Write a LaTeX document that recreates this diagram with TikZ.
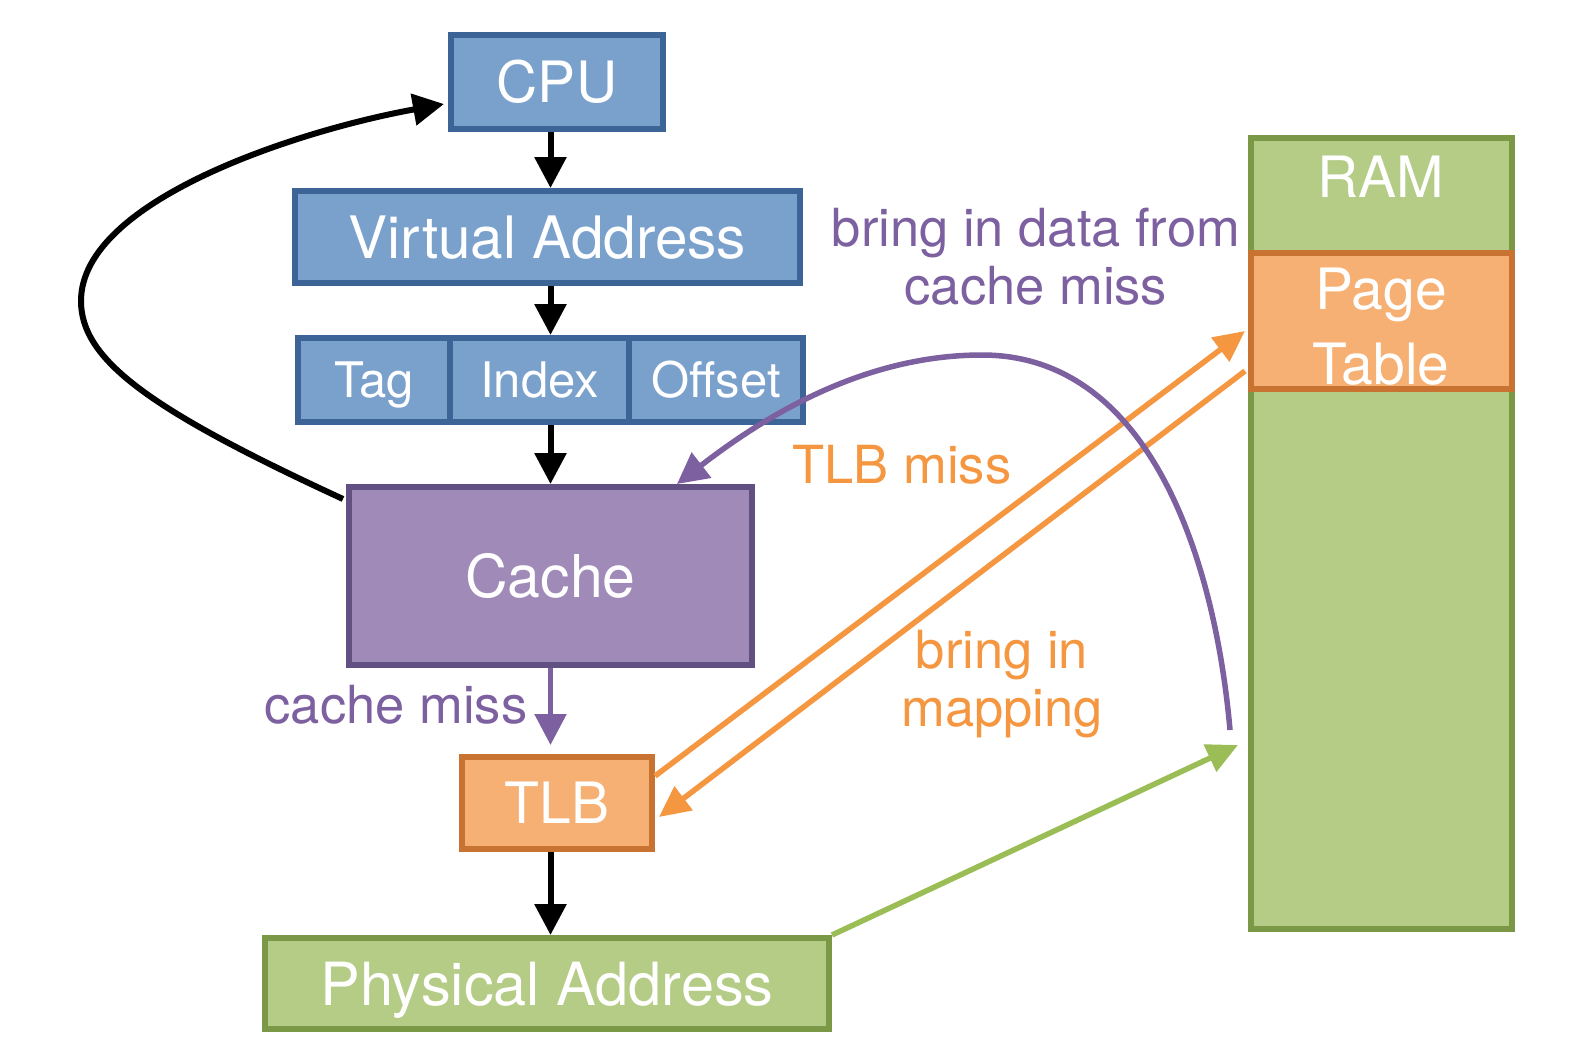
\documentclass[tikz,border=0pt]{standalone}
\usepackage{fontspec}
\setmainfont{TeX Gyre Heros}
\usetikzlibrary{arrows.meta,calc}
\definecolor{bluefill}{RGB}{122,160,204}
\definecolor{blueedge}{RGB}{60,100,150}
\definecolor{purplefill}{RGB}{160,139,184}
\definecolor{purpleedge}{RGB}{98,80,130}
\definecolor{purpleline}{RGB}{124,96,160}
\definecolor{orangefill}{RGB}{247,176,115}
\definecolor{orangeedge}{RGB}{200,115,50}
\definecolor{orangeline}{RGB}{245,150,65}
\definecolor{greenfill}{RGB}{181,204,135}
\definecolor{greenedge}{RGB}{122,152,70}
\definecolor{greenline}{RGB}{155,189,85}
\begin{document}
\begin{tikzpicture}[x=1pt,y=-1pt,
  box/.style={draw, line width=6pt, text=white, inner sep=0pt, align=center,
    font=\fontsize{57}{73}\selectfont},
  capc/.style={text height=#1, text depth=0pt},
  bluebox/.style={box, fill=bluefill, draw=blueedge},
  smallbox/.style={bluebox, font=\fontsize{49}{56}\selectfont, capc=35pt},
  purplebox/.style={box, fill=purplefill, draw=purpleedge},
  orangebox/.style={box, fill=orangefill, draw=orangeedge},
  greenbox/.style={box, fill=greenfill, draw=greenedge},
  arr/.style={line width=6pt, -{Triangle[length=31pt,width=31pt]}},
  parr/.style={arr, draw=purpleline, line width=5.5pt},
  oarr/.style={line width=5.5pt, draw=orangeline, -{Triangle[length=31pt,width=29pt]}},
  garr/.style={line width=5.5pt, draw=greenline, -{Triangle[length=31pt,width=29pt]}},
  lab/.style={font=\fontsize{52.5}{58}\selectfont, align=center, inner sep=0pt},
  boxtext/.style={text=white, inner sep=0pt, align=center, font=\fontsize{57}{73}\selectfont},
]
\useasboundingbox (0,0) rectangle (1590,1050);

% RAM and page table
\node[greenbox, minimum width=261pt, minimum height=791pt] (ram) at (1381.5,533.5) {};
\node[boxtext, capc=41pt] (ramlabel) at (1381,177) {RAM};
\node[orangebox, minimum width=261pt, minimum height=136pt] (pt) at (1381.5,321) {};
\node[boxtext] (ptlabel) at (1381,327) {Page\\[2pt]Table};

% left column
\node[bluebox, capc=41pt, minimum width=212pt, minimum height=94pt] (cpu) at (557,82) {CPU};
\node[bluebox, capc=42pt, minimum width=505pt, minimum height=92pt, font=\fontsize{58.5}{68}\selectfont] (va) at (547.5,237) {Virtual Address};
\node[smallbox, minimum width=152pt, minimum height=84pt] (tag) at (374,380) {Tag};
\node[smallbox, minimum width=179pt, minimum height=84pt] (index) at (539.5,380) {Index};
\node[smallbox, minimum width=174pt, minimum height=84pt] (offset) at (716,380) {Offset};
\node[purplebox, capc=42pt, minimum width=403pt, minimum height=178pt, font=\fontsize{59}{68}\selectfont] (cache) at (550.5,576) {Cache};
\node[orangebox, capc=41pt, minimum width=190pt, minimum height=92pt] (tlb) at (557,803) {TLB};
\node[greenbox, capc=43pt, minimum width=564pt, minimum height=91pt, font=\fontsize{59.5}{68}\selectfont] (phys) at (547,983.5) {Physical Address};

% labels
\node[lab, text=purpleline] (lbring) at (1036,257) {bring in data from\\cache miss};
\node[lab, text=orangeline] (ltlbmiss) at (902,465) {TLB miss};
\node[lab, text=orangeline] (lmap) at (1002,684) {bring in\\mapping};
\node[lab, text=purpleline] (lcmiss) at (396,705) {cache miss};

% vertical arrows
\draw[arr] (cpu.south -| cache.north) -- (va.north -| cache.north);
\draw[arr] (va.south -| cache.north) -- (index.north -| cache.north);
\draw[arr] (index.south -| cache.north) -- (cache.north);
\draw[parr, shorten >=9pt] (cache.south) -- (tlb.north -| cache.south);
\draw[arr] (tlb.south -| cache.south) -- (phys.north -| cache.south);

% black loop back to CPU
\draw[arr] ($(cache.north west)+(-3,15)$) .. controls (150,410) and (81,360) .. (81,301)
  .. controls (81,200) and (300,130) .. ($(cpu.west)+(-4,22)$);

% orange TLB miss / mapping
\draw[oarr] ($(tlb.north east)+(0,22)$) -- ($(pt.north west)+(-3,81)$);
\draw[oarr] ($(pt.north west)+(-3,121)$) -- ($(tlb.north east)+(4,63)$);

% green physical -> RAM
\coordinate (gend) at (1238,745);
\draw[garr] (phys.north east) -- (gend);

% purple data from RAM to cache
\coordinate (pstart) at (1230,730);
\draw[parr] (pstart) .. controls (1215,560) and (1150,355) .. (982,355)
  .. controls (860,355) and (760,420) .. ($(cache.north east)+(-78,0)$);
\end{tikzpicture}
\end{document}
